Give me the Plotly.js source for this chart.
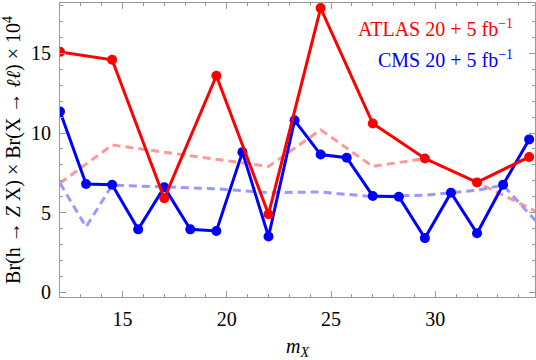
<!DOCTYPE html>
<html>
<head>
<meta charset="utf-8">
<script src="https://cdn.plot.ly/plotly-3.0.1.min.js"></script>
<style>
  body { margin: 0; background: #fff; }
  #chart { width: 536px; height: 360px; }
</style>
</head>
<body>
<div id="chart"></div>
<script>
// observed limits (solid) and expected limits (dashed), values x 10^4
var xAtlas = [12, 14.5, 17, 19.5, 22, 24.5, 27, 29.5, 32, 34.5];
var atlasObs = [15.1, 14.6, 5.9, 13.6, 4.9, 17.85, 10.6, 8.4, 6.9, 8.5];

var xCms = [12, 13.25, 14.5, 15.75, 17, 18.25, 19.5, 20.75, 22, 23.25,
            24.5, 25.75, 27, 28.25, 29.5, 30.75, 32, 33.25, 34.5];
var cmsObs = [11.35, 6.8, 6.75, 3.95, 6.6, 3.95, 3.85, 8.8, 3.5, 10.8,
              8.65, 8.45, 6.05, 6.0, 3.4, 6.25, 3.7, 6.75, 9.6];

var xAtlasExp = [12, 14.5, 17, 19.5, 22, 24.5, 27, 29.5, 32, 34.8];
var atlasExp = [6.85, 9.25, 8.8, 8.35, 7.9, 10.2, 7.9, 8.4, 6.9, 5.1];

var xCmsExp = [12, 13.25, 14.5, 17, 19.5, 22, 24.5, 27, 29.5, 32, 33.25, 34.8];
var cmsExp = [6.85, 4.1, 6.73, 6.62, 6.5, 6.25, 6.3, 6.0, 6.1, 6.4, 6.73, 4.5];

var serif = 'Liberation Serif';
var axisGray = '#999';

var traces = [
  {
    x: xAtlasExp, y: atlasExp, mode: 'lines', type: 'scatter',
    line: {color: '#ff9999', width: 3, dash: '8px,5px'}
  },
  {
    x: xCmsExp, y: cmsExp, mode: 'lines', type: 'scatter',
    line: {color: '#9999ff', width: 3, dash: '8px,5px'}
  },
  {
    x: xCms, y: cmsObs, mode: 'lines+markers', type: 'scatter',
    line: {color: '#0000ff', width: 3},
    marker: {color: '#0000ff', size: 10}
  },
  {
    x: xAtlas, y: atlasObs, mode: 'lines+markers', type: 'scatter',
    line: {color: '#ff0000', width: 3},
    marker: {color: '#ff0000', size: 10}
  }
];

var axisStyle = {
  showgrid: false,
  zeroline: false,
  showline: true,
  linecolor: axisGray,
  linewidth: 1,
  mirror: 'ticks',
  ticks: 'inside',
  ticklen: 6,
  tickcolor: axisGray,
  tickfont: {family: serif, size: 20, color: '#000'},
  minor: {dtick: 1, ticks: 'inside', ticklen: 3, tickcolor: axisGray}
};

var layout = {
  width: 536,
  height: 360,
  margin: {l: 60, r: 1, t: 3, b: 63},
  paper_bgcolor: '#fff',
  plot_bgcolor: '#fff',
  showlegend: false,
  font: {family: serif, size: 20, color: '#000'},
  xaxis: Object.assign({}, axisStyle, {
    range: [12, 34.78],
    tick0: 0,
    dtick: 5,
    ticklabelstandoff: 4,
    title: {text: '<i>m</i><sub><i>X</i></sub>', font: {family: serif, size: 20}, standoff: 10}
  }),
  yaxis: Object.assign({}, axisStyle, {
    range: [-0.3, 18.17],
    tick0: 0,
    dtick: 5,
    ticklabelstandoff: 4,
    title: {
      text: 'Br(h → <i>Z</i> X) × Br(X → <i>ℓℓ</i>) × 10<sup>4</sup>',
      font: {family: serif, size: 20},
      standoff: 6
    }
  }),
  annotations: [
    {
      xref: 'paper', yref: 'paper', x: 0.958, y: 0.915,
      xanchor: 'right', yanchor: 'middle', showarrow: false,
      text: 'ATLAS 20 + 5 fb<sup>−1</sup>',
      font: {family: serif, size: 20, color: '#ff0000'}
    },
    {
      xref: 'paper', yref: 'paper', x: 0.958, y: 0.808,
      xanchor: 'right', yanchor: 'middle', showarrow: false,
      text: 'CMS 20 + 5 fb<sup>−1</sup>',
      font: {family: serif, size: 20, color: '#0000ff'}
    }
  ]
};

Plotly.newPlot('chart', traces, layout, {displayModeBar: false, staticPlot: true});
</script>
</body>
</html>
